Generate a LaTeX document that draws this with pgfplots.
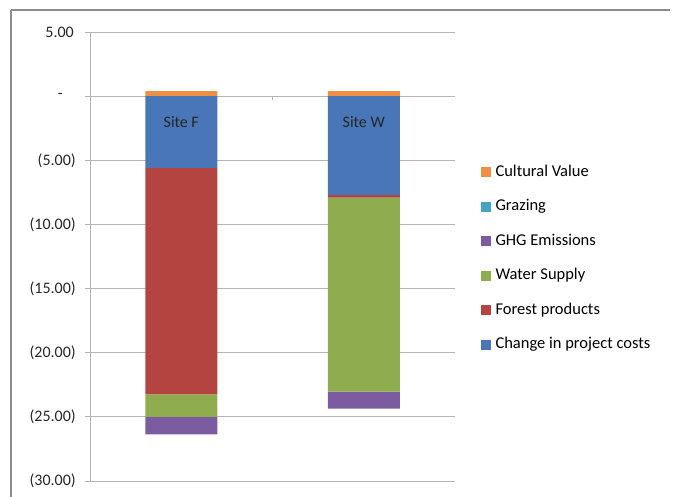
\documentclass[border=0pt]{standalone}
\usepackage{fontspec}
\setmainfont{Carlito}
\usepackage{pgfplots}
\pgfplotsset{compat=1.18}

\definecolor{costblue}{HTML}{4876B6}
\definecolor{forestred}{HTML}{B4443F}
\definecolor{watergreen}{HTML}{8FAD4E}
\definecolor{ghgpurple}{HTML}{7B5CA0}
\definecolor{grazeaqua}{HTML}{45A5C0}
\definecolor{cultorange}{HTML}{F08E42}
\definecolor{gridgray}{HTML}{B4B4B4}
\definecolor{framegray}{HTML}{8C8C8C}

\newcommand{\swatch}[1]{\addlegendimage{legend image code/.code={\fill[#1] (0bp,-4bp) rectangle (9bp,5bp);}}}

\begin{document}
\begin{tikzpicture}[font=\fontsize{16bp}{19bp}\selectfont]
% chart frame (top and left edges)
\draw[framegray, line width=1.6bp] (11bp,-10bp) -- (670bp,-10bp);
\draw[framegray, line width=1.6bp] (11bp,-10bp) -- (11bp,-497bp);

\begin{axis}[
  at={(90bp,-481bp)}, anchor=south west,
  scale only axis, width=365bp, height=449bp,
  ybar stacked, stack negative=separate, bar width=72bp,
  xmin=0.5, xmax=2.5, ymin=-30, ymax=5,
  axis x line=none,
  axis y line*=left,
  axis line style={gridgray, line width=0.8bp},
  ytick={-30,-25,...,5},
  yticklabels={{(30.00)},{(25.00)},{(20.00)},{(15.00)},{(10.00)},{(5.00)},{-\hspace*{13bp}},{5.00\hspace*{2bp}}},
  yticklabel style={anchor=east, inner sep=0pt, xshift=-9bp, text=black!85},
  tick align=outside, major tick length=5bp,
  tick style={gridgray, line width=0.8bp},
  ymajorgrids, grid style={gridgray, line width=0.8bp},
  legend cell align=left,
  legend style={draw=none, fill=none, inner sep=0pt,
    at={(1.071,0.706)}, anchor=north west,
    font=\fontsize{16.5bp}{19bp}\selectfont,
    row sep=18.5bp, column sep=5bp,
    nodes={inner sep=0pt, text height=12bp, text depth=4bp}},
]
% legend: listed top to bottom in reverse stacking order
\swatch{cultorange}\addlegendentry{Cultural Value}
\swatch{grazeaqua}\addlegendentry{Grazing}
\swatch{ghgpurple}\addlegendentry{GHG Emissions}
\swatch{watergreen}\addlegendentry{Water Supply}
\swatch{forestred}\addlegendentry{Forest products}
\swatch{costblue}\addlegendentry{Change in project costs}

% category ticks on the zero line
\draw[gridgray, line width=0.8bp] (axis cs:1.5,0) -- ([yshift=-4bp]axis cs:1.5,0);
\draw[gridgray, line width=0.8bp] (axis cs:2.5,0) -- ([yshift=-4bp]axis cs:2.5,0);

% negative components stack downward from zero, positive ones upward
\addplot[fill=costblue, draw=none] coordinates {(1,-5.6) (2,-7.72)};
\addplot[fill=forestred, draw=none] coordinates {(1,-17.65) (2,-0.2)};
\addplot[fill=watergreen, draw=none] coordinates {(1,-1.75) (2,-15.12)};
\addplot[fill=ghgpurple, draw=none] coordinates {(1,-1.37) (2,-1.31)};
\addplot[fill=grazeaqua, draw=none] coordinates {(1,0) (2,0)};
\addplot[fill=cultorange, draw=none] coordinates {(1,0.4) (2,0.4)};

\coordinate (siteF) at (axis cs:1,-2);
\coordinate (siteW) at (axis cs:2,-2);
\end{axis}

% bar labels, set over the bars
\node[text=black!85] at (siteF) {Site F};
\node[text=black!85] at (siteW) {Site W};

\pgfresetboundingbox
\useasboundingbox (0bp,0bp) rectangle (675bp,-497bp);
\end{tikzpicture}
\end{document}
